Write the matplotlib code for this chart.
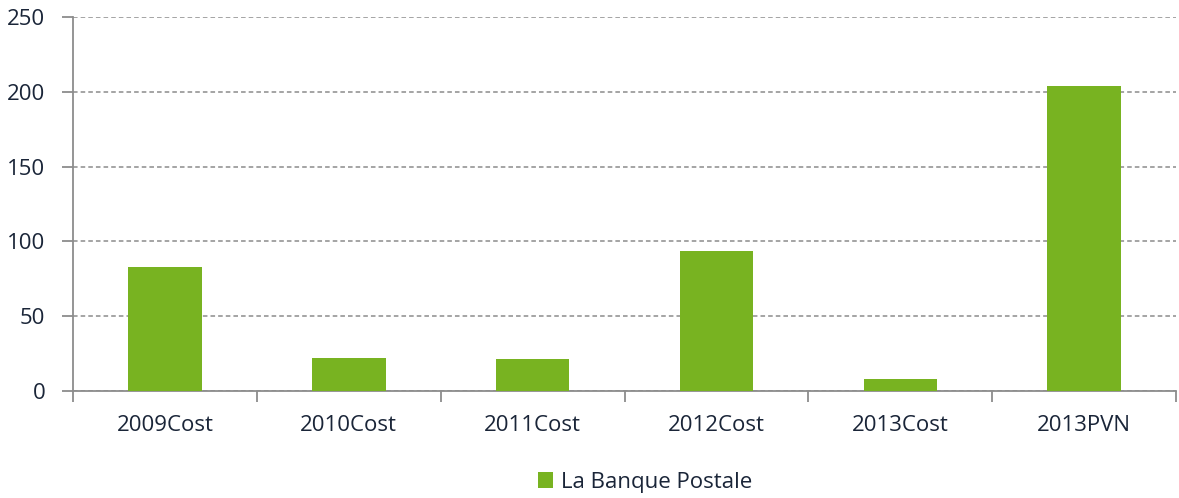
import matplotlib
matplotlib.use("Agg")
import matplotlib.pyplot as plt
import numpy as np

# Donnees du graphique
categories = ["2009Cost", "2010Cost", "2011Cost", "2012Cost", "2013Cost", "2013PVN"]
values = [83, 22.3, 21.4, 93.5, 8, 203.5]
series_name = "La Banque Postale"
y_ticks = [0, 50, 100, 150, 200, 250]

green = "#78b321"
text_col = "#1a2538"
grid_col = "#8c8c8c"

plt.rcParams["font.family"] = ["Open Sans", "DejaVu Sans"]

fig = plt.figure(figsize=(11.79, 4.98), dpi=100)
ax = fig.add_axes([0.062, 0.215, 0.9355, 0.751])

x = np.arange(len(categories))
ax.bar(x, values, width=0.4, color=green, label=series_name, zorder=3)

ax.set_xlim(-0.5, len(categories) - 0.5)
ax.set_ylim(0, 250)
ax.set_yticks(y_ticks)
ax.set_yticklabels([str(v) for v in y_ticks], fontsize=16, color=text_col)

# ticks majeurs aux limites, etiquettes au centre
ax.set_xticks(np.arange(-0.5, len(categories), 1.0))
ax.set_xticklabels([])
ax.set_xticks(x, minor=True)
ax.set_xticklabels(categories, minor=True, fontsize=16, color=text_col)
ax.tick_params(axis="x", which="major", length=8, width=1.3, color=grid_col, direction="out")
ax.tick_params(axis="x", which="minor", length=0, pad=17)
ax.tick_params(axis="y", length=8, width=1.3, color=grid_col, pad=12)

ax.yaxis.grid(True, linestyle=(0, (3, 2)), color=grid_col, linewidth=1.1, zorder=0)
for side in ["top", "right"]:
    ax.spines[side].set_visible(False)
ax.spines["left"].set_color(grid_col)
ax.spines["left"].set_linewidth(1.3)
ax.spines["bottom"].set_color(grid_col)
ax.spines["bottom"].set_linewidth(1.3)

fig.legend(loc="center", bbox_to_anchor=(0.547, 0.032), frameon=False, fontsize=16,
           handlelength=0.7, handleheight=0.7, handletextpad=0.35, labelcolor=text_col)

fig.savefig("out.png", dpi=100)
